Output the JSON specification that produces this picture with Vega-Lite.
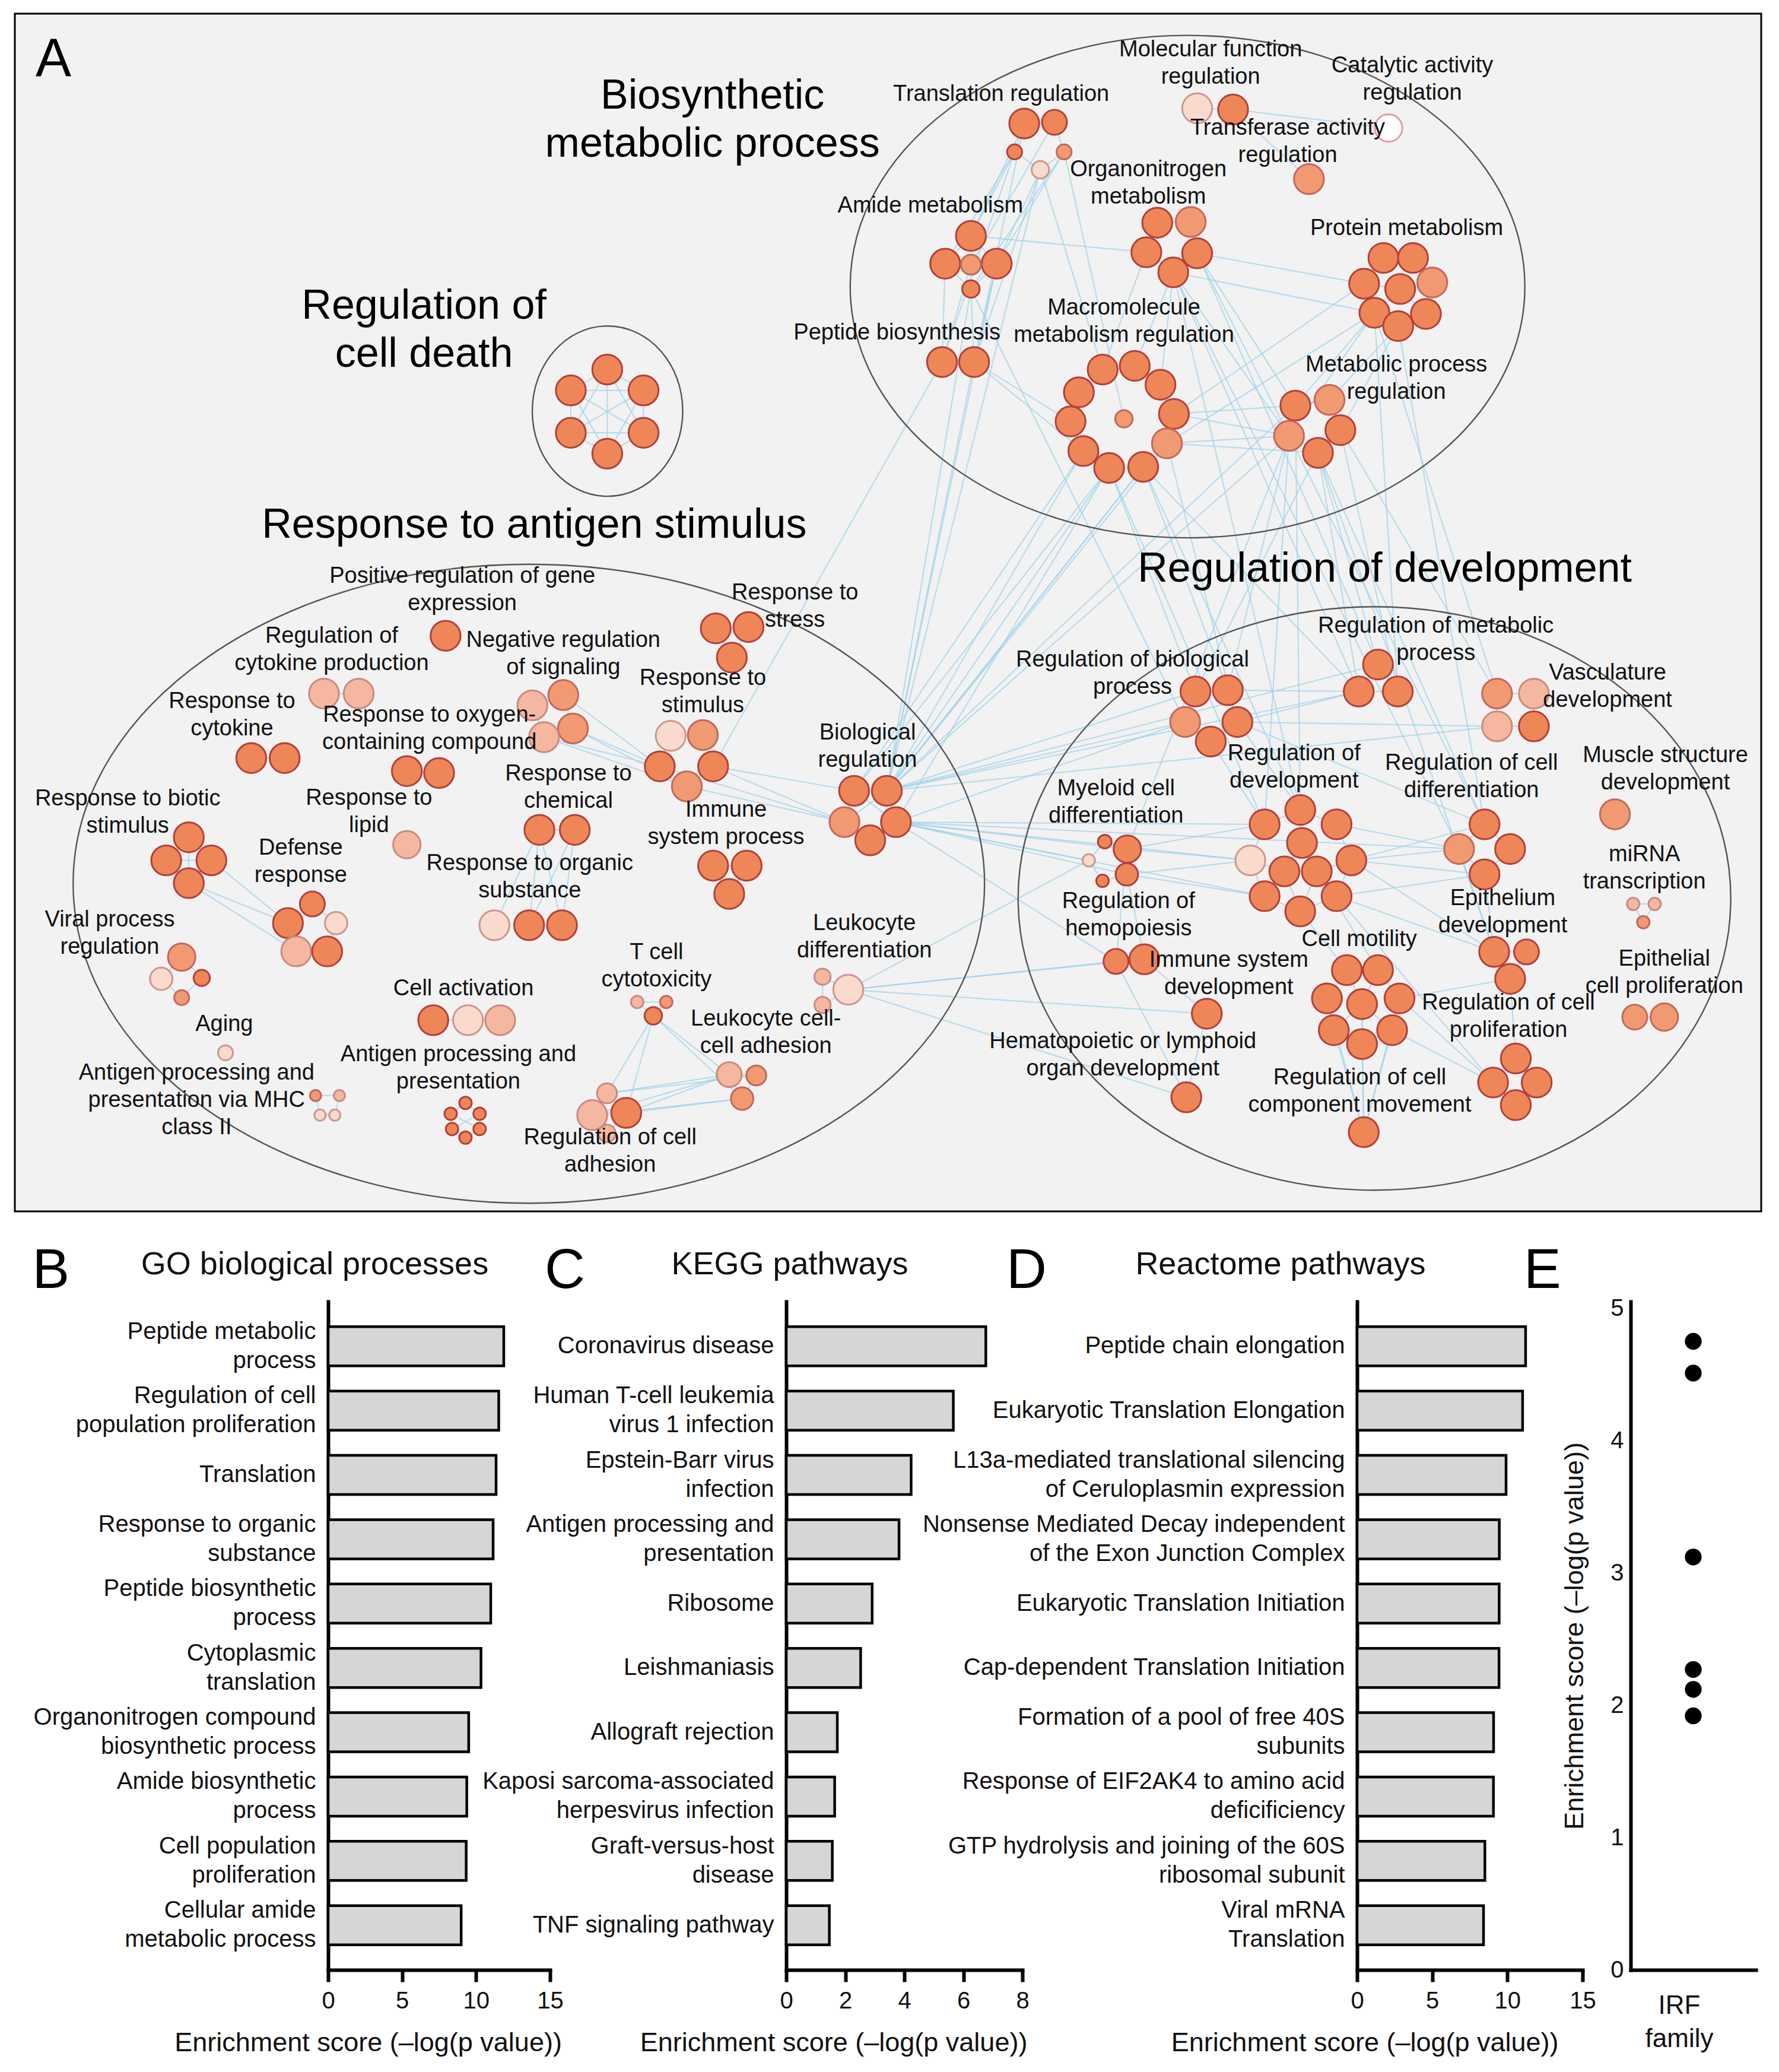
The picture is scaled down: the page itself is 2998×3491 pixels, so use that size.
{
  "$schema": "https://vega.github.io/schema/vega-lite/v6.json",
  "padding": {"left": 23, "top": 21, "right": 10, "bottom": 5},
  "autosize": {"type": "pad"},
  "background": "white",
  "config": {
    "view": {"stroke": null},
    "font": "Liberation Sans, Arial, Helvetica, sans-serif",
    "axis": {"grid": false, "labelFont": "Liberation Sans, Arial, sans-serif", "titleFont": "Liberation Sans, Arial, sans-serif", "labelColor": "#111", "titleColor": "#111"},
    "title": {"font": "Liberation Sans, Arial, sans-serif", "fontWeight": "normal", "color": "#111"}
  },
  "bounds": "flush",
  "spacing": 152,
  "datasets": {
    "nodes": [
      {"id":"TR1","x":775.7,"y":93.2,"r":12,"c":"S"},{"id":"TR2","x":798.6,"y":92.3,"r":10,"c":"S"},{"id":"TR3","x":768.4,"y":114.7,"r":6,"c":"S"},{"id":"TR4","x":805.9,"y":114.7,"r":6,"c":"M"},{"id":"TR5","x":787.9,"y":128.2,"r":7,"c":"V"},
      {"id":"MF1","x":906.7,"y":81.7,"r":12,"c":"V"},{"id":"MF2","x":933.9,"y":82.6,"r":12,"c":"S"},
      {"id":"CA1","x":1051.7,"y":96.6,"r":11,"c":"W"},{"id":"TA1","x":991.4,"y":135.3,"r":12,"c":"M"},
      {"id":"ON1","x":876.5,"y":168.3,"r":12,"c":"S"},{"id":"ON2","x":901.8,"y":167.7,"r":12,"c":"M"},{"id":"ON3","x":868.2,"y":190.7,"r":12,"c":"S"},{"id":"ON4","x":906.7,"y":191.5,"r":12,"c":"S"},{"id":"ON5","x":888.6,"y":205.9,"r":12,"c":"S"},
      {"id":"AM1","x":735.3,"y":178.3,"r":12,"c":"S"},{"id":"AM2","x":715.8,"y":199.3,"r":12,"c":"S"},{"id":"AM3","x":754.8,"y":199.3,"r":12,"c":"S"},{"id":"AM4","x":735.3,"y":200.1,"r":8,"c":"M"},{"id":"AM5","x":735.3,"y":218.5,"r":7,"c":"S"},
      {"id":"PB1","x":713.4,"y":273.8,"r":12,"c":"S"},{"id":"PB2","x":737.7,"y":273.8,"r":12,"c":"S"},
      {"id":"PM1","x":1047.8,"y":195,"r":12,"c":"S"},{"id":"PM2","x":1070.2,"y":195,"r":12,"c":"S"},{"id":"PM3","x":1033.2,"y":214.5,"r":12,"c":"S"},{"id":"PM4","x":1060.5,"y":218.5,"r":12,"c":"S"},{"id":"PM5","x":1084.8,"y":213.6,"r":12,"c":"M"},{"id":"PM6","x":1041,"y":236.5,"r":12,"c":"S"},{"id":"PM7","x":1080,"y":237.4,"r":12,"c":"S"},{"id":"PM8","x":1059,"y":246.6,"r":12,"c":"S"},
      {"id":"MM1","x":835.1,"y":279.5,"r":12,"c":"S"},{"id":"MM2","x":859.4,"y":276.7,"r":12,"c":"S"},{"id":"MM3","x":878.9,"y":291,"r":12,"c":"S"},{"id":"MM4","x":817.1,"y":296.7,"r":12,"c":"S"},{"id":"MM5","x":889.1,"y":313.1,"r":12,"c":"S"},{"id":"MM6","x":810.8,"y":318.8,"r":12,"c":"S"},{"id":"MM7","x":851.2,"y":316.8,"r":7,"c":"M"},{"id":"MM8","x":883.8,"y":335.4,"r":12,"c":"M"},{"id":"MM9","x":820.5,"y":341.2,"r":12,"c":"S"},{"id":"MM10","x":840,"y":354,"r":12,"c":"S"},{"id":"MM11","x":865.8,"y":353.2,"r":12,"c":"S"},
      {"id":"MP1","x":981.1,"y":306.8,"r":12,"c":"S"},{"id":"MP2","x":1007,"y":302.5,"r":12,"c":"M"},{"id":"MP3","x":976.3,"y":329.7,"r":12,"c":"M"},{"id":"MP4","x":1015.2,"y":325.4,"r":12,"c":"S"},{"id":"MP5","x":998.2,"y":342.6,"r":12,"c":"S"},
      {"id":"CD1","x":459.8,"y":279.5,"r":12,"c":"S"},{"id":"CD2","x":432.2,"y":295.3,"r":12,"c":"S"},{"id":"CD3","x":487.3,"y":295.3,"r":12,"c":"S"},{"id":"CD4","x":432.2,"y":327.4,"r":12,"c":"S"},{"id":"CD5","x":487.3,"y":327.4,"r":12,"c":"S"},{"id":"CD6","x":459.8,"y":343.2,"r":12,"c":"S"},
      {"id":"PG1","x":337.3,"y":481.1,"r":12,"c":"S"},
      {"id":"RS1","x":542,"y":475.5,"r":12,"c":"S"},{"id":"RS2","x":566.8,"y":474.5,"r":12,"c":"S"},{"id":"RS3","x":554.2,"y":497.6,"r":12,"c":"S"},
      {"id":"RC1","x":245.2,"y":524.9,"r":12,"c":"L"},{"id":"RC2","x":271.5,"y":524.9,"r":12,"c":"L"},
      {"id":"NS1","x":426.5,"y":526,"r":12,"c":"M"},{"id":"NS2","x":403.1,"y":533.8,"r":12,"c":"L"},{"id":"NS3","x":433.8,"y":551.3,"r":12,"c":"M"},{"id":"NS4","x":411.9,"y":557.9,"r":12,"c":"L"},
      {"id":"ST1","x":507.9,"y":556.9,"r":12,"c":"V"},{"id":"ST2","x":532.2,"y":556.3,"r":12,"c":"M"},{"id":"ST3","x":499.6,"y":580,"r":12,"c":"S"},{"id":"ST4","x":540,"y":580,"r":12,"c":"S"},{"id":"ST5","x":520.1,"y":595.2,"r":12,"c":"M"},
      {"id":"CY1","x":190.1,"y":573.7,"r":12,"c":"S"},{"id":"CY2","x":215.4,"y":573.7,"r":12,"c":"S"},
      {"id":"OX1","x":308,"y":583.6,"r":12,"c":"S"},{"id":"OX2","x":332.4,"y":585,"r":12,"c":"S"},
      {"id":"BR1","x":646.8,"y":598.5,"r":12,"c":"S"},{"id":"BR2","x":671.6,"y":598.5,"r":12,"c":"S"},{"id":"BR3","x":639.5,"y":622.2,"r":12,"c":"M"},{"id":"BR4","x":678.5,"y":622.2,"r":12,"c":"S"},{"id":"BR5","x":659,"y":636,"r":12,"c":"S"},
      {"id":"CH1","x":408.4,"y":628.1,"r":12,"c":"S"},{"id":"CH2","x":435.2,"y":628.1,"r":12,"c":"S"},
      {"id":"LI1","x":308,"y":639.3,"r":11,"c":"L"},
      {"id":"BI1","x":142.8,"y":633.7,"r":12,"c":"S"},{"id":"BI2","x":125.7,"y":651.2,"r":12,"c":"S"},{"id":"BI3","x":159.9,"y":651.2,"r":12,"c":"S"},{"id":"BI4","x":142.8,"y":668.4,"r":12,"c":"S"},
      {"id":"IM1","x":540,"y":655.2,"r":12,"c":"S"},{"id":"IM2","x":565.4,"y":655.2,"r":12,"c":"S"},{"id":"IM3","x":552.2,"y":676.6,"r":12,"c":"S"},
      {"id":"DR1","x":236.4,"y":684.2,"r":10,"c":"S"},{"id":"DR2","x":217.9,"y":698.7,"r":12,"c":"S"},{"id":"DR3","x":254.4,"y":698.7,"r":9,"c":"V"},{"id":"DR4","x":224.2,"y":720.1,"r":12,"c":"L"},{"id":"DR5","x":247.6,"y":720.1,"r":12,"c":"S"},
      {"id":"OS1","x":374.3,"y":700.3,"r":12,"c":"V"},{"id":"OS2","x":400.6,"y":700.3,"r":12,"c":"S"},{"id":"OS3","x":425.5,"y":700.3,"r":12,"c":"S"},
      {"id":"VP1","x":137.4,"y":724.4,"r":11,"c":"M"},{"id":"VP2","x":121.9,"y":740.9,"r":9,"c":"V"},{"id":"VP3","x":152.6,"y":740.2,"r":6.5,"c":"S"},{"id":"VP4","x":137.4,"y":755.1,"r":6,"c":"M"},
      {"id":"AC1","x":328,"y":772.2,"r":12,"c":"S"},{"id":"AC2","x":354.3,"y":772.2,"r":12,"c":"V"},{"id":"AC3","x":378.7,"y":772.2,"r":12,"c":"L"},
      {"id":"AG1","x":170.6,"y":796.9,"r":6,"c":"V"},
      {"id":"MH1","x":238.8,"y":829.3,"r":4.5,"c":"M"},{"id":"MH2","x":256.9,"y":829.3,"r":4.5,"c":"L"},{"id":"MH3","x":242.2,"y":844.1,"r":4.5,"c":"V"},{"id":"MH4","x":253.4,"y":844.1,"r":4.5,"c":"V"},
      {"id":"AP1","x":352.4,"y":834.9,"r":5,"c":"S"},{"id":"AP2","x":341.2,"y":843.1,"r":5,"c":"S"},{"id":"AP3","x":363.1,"y":843.1,"r":5,"c":"S"},{"id":"AP4","x":342.2,"y":854.6,"r":5,"c":"S"},{"id":"AP5","x":363.1,"y":854.6,"r":5,"c":"S"},{"id":"AP6","x":352.4,"y":861.2,"r":5,"c":"S"},
      {"id":"TC1","x":482.5,"y":758.4,"r":5,"c":"L"},{"id":"TC2","x":504.5,"y":758.4,"r":5,"c":"M"},{"id":"TC3","x":494.7,"y":768.9,"r":7,"c":"S"},
      {"id":"LD1","x":622.9,"y":739.3,"r":6.5,"c":"L"},{"id":"LD2","x":642.4,"y":749.1,"r":12,"c":"V"},{"id":"LD3","x":622.9,"y":760.7,"r":6.5,"c":"L"},
      {"id":"LA1","x":552.2,"y":813.4,"r":10,"c":"L"},{"id":"LA2","x":572.7,"y":814.1,"r":8,"c":"M"},{"id":"LA3","x":562,"y":831.6,"r":9,"c":"M"},
      {"id":"RA1","x":459.6,"y":827.6,"r":8,"c":"L"},{"id":"RA2","x":448.4,"y":844.1,"r":12,"c":"L"},{"id":"RA3","x":474.2,"y":842.4,"r":12,"c":"S"},{"id":"RA4","x":459.6,"y":858,"r":7,"c":"L"},
      {"id":"RM1","x":1043.7,"y":502.9,"r":12,"c":"S"},{"id":"RM2","x":1029.1,"y":523.3,"r":12,"c":"S"},{"id":"RM3","x":1058.7,"y":523.3,"r":12,"c":"S"},
      {"id":"RB1","x":905.4,"y":523.3,"r":12,"c":"S"},{"id":"RB2","x":929.9,"y":522.3,"r":12,"c":"S"},{"id":"RB3","x":897.6,"y":546.4,"r":12,"c":"M"},{"id":"RB4","x":937.2,"y":546.4,"r":12,"c":"S"},{"id":"RB5","x":917,"y":561.2,"r":12,"c":"S"},
      {"id":"VD1","x":1133.9,"y":524.9,"r":12,"c":"M"},{"id":"VD2","x":1161.8,"y":524.9,"r":12,"c":"L"},{"id":"VD3","x":1133.9,"y":549.7,"r":12,"c":"L"},{"id":"VD4","x":1161.8,"y":549.7,"r":12,"c":"S"},
      {"id":"MS1","x":1223.2,"y":616.3,"r":12,"c":"M"},
      {"id":"MY1","x":836.7,"y":637,"r":5.5,"c":"S"},{"id":"MY2","x":853.8,"y":642.6,"r":11,"c":"S"},{"id":"MY3","x":824.6,"y":651.2,"r":5,"c":"V"},{"id":"MY4","x":853.4,"y":661.8,"r":9,"c":"S"},{"id":"MY5","x":835,"y":666.7,"r":5,"c":"S"},
      {"id":"RD1","x":984.8,"y":613,"r":12,"c":"S"},{"id":"RD2","x":957.8,"y":623.9,"r":12,"c":"S"},{"id":"RD3","x":1012.3,"y":623.9,"r":12,"c":"S"},{"id":"RD4","x":986.1,"y":638,"r":12,"c":"S"},{"id":"RD5","x":947,"y":651.2,"r":12,"c":"V"},{"id":"RD6","x":1023.5,"y":651.2,"r":12,"c":"S"},{"id":"RD7","x":972.8,"y":659.5,"r":12,"c":"S"},{"id":"RD8","x":997.3,"y":659.5,"r":12,"c":"S"},{"id":"RD9","x":957.8,"y":678.3,"r":12,"c":"S"},{"id":"RD10","x":1012.3,"y":678.3,"r":12,"c":"S"},{"id":"RD11","x":984.8,"y":689.8,"r":12,"c":"S"},
      {"id":"RCD1","x":1124.4,"y":623.9,"r":12,"c":"S"},{"id":"RCD2","x":1105.1,"y":642.6,"r":12,"c":"M"},{"id":"RCD3","x":1143.8,"y":642.6,"r":12,"c":"S"},{"id":"RCD4","x":1124.4,"y":661.8,"r":12,"c":"S"},
      {"id":"MI1","x":1237,"y":684.2,"r":5,"c":"L"},{"id":"MI2","x":1253.3,"y":684.2,"r":5,"c":"L"},{"id":"MI3","x":1244.7,"y":698,"r":5,"c":"M"},
      {"id":"HE1","x":845.2,"y":727.7,"r":10,"c":"S"},{"id":"HE2","x":866.7,"y":726.1,"r":12,"c":"S"},
      {"id":"ED1","x":1131.7,"y":720.5,"r":12,"c":"S"},{"id":"ED2","x":1156.2,"y":720.5,"r":10,"c":"S"},{"id":"ED3","x":1143.8,"y":740.9,"r":12,"c":"S"},
      {"id":"CM1","x":1020.1,"y":734.3,"r":12,"c":"S"},{"id":"CM2","x":1043.7,"y":734.3,"r":12,"c":"S"},{"id":"CM3","x":1005,"y":755.7,"r":12,"c":"S"},{"id":"CM4","x":1031.6,"y":760,"r":12,"c":"S"},{"id":"CM5","x":1060,"y":755.7,"r":12,"c":"S"},{"id":"CM6","x":1010.2,"y":779.8,"r":12,"c":"S"},{"id":"CM7","x":1054.4,"y":779.8,"r":12,"c":"S"},{"id":"CM8","x":1031.6,"y":790.3,"r":12,"c":"S"},
      {"id":"ID1","x":914,"y":767.3,"r":12,"c":"S"},
      {"id":"EP1","x":1238.2,"y":769.9,"r":10,"c":"M"},{"id":"EP2","x":1260.6,"y":769.9,"r":11,"c":"M"},
      {"id":"RP1","x":1148.1,"y":801.2,"r":12,"c":"S"},{"id":"RP2","x":1130.9,"y":819.4,"r":12,"c":"S"},{"id":"RP3","x":1163.9,"y":819.4,"r":12,"c":"S"},{"id":"RP4","x":1148.1,"y":836.5,"r":12,"c":"S"},
      {"id":"HO1","x":898.5,"y":830.6,"r":12,"c":"S"},
      {"id":"RCM1","x":1032.9,"y":857,"r":12,"c":"S"}
    ],
    "edges": [
      {"s":"CD1","t":"CD2"},{"s":"CD1","t":"CD3"},{"s":"CD1","t":"CD4"},{"s":"CD1","t":"CD5"},{"s":"CD1","t":"CD6"},{"s":"CD2","t":"CD3"},{"s":"CD2","t":"CD4"},{"s":"CD2","t":"CD5"},{"s":"CD2","t":"CD6"},{"s":"CD3","t":"CD4"},{"s":"CD3","t":"CD5"},{"s":"CD3","t":"CD6"},{"s":"CD4","t":"CD5"},{"s":"CD4","t":"CD6"},{"s":"CD5","t":"CD6"},
      {"s":"TR1","t":"TR2"},{"s":"TR1","t":"TR3"},{"s":"TR2","t":"TR4"},{"s":"TR3","t":"TR5"},{"s":"TR4","t":"TR5"},
      {"s":"TR3","t":"AM2"},{"s":"TR3","t":"AM1"},{"s":"TR1","t":"AM1"},{"s":"TR3","t":"PB1"},{"s":"TR5","t":"PB2"},{"s":"TR5","t":"AM3"},{"s":"TR4","t":"AM3"},{"s":"TR4","t":"AM5"},{"s":"TR5","t":"MM1"},{"s":"TR4","t":"MM7"},{"s":"TR1","t":"PB2"},{"s":"TR2","t":"AM4"},{"s":"TR5","t":"BR2"},
      {"s":"MF1","t":"MF2"},{"s":"MF2","t":"CA1"},{"s":"MF2","t":"TA1"},
      {"s":"AM1","t":"ON3"},{"s":"AM1","t":"AM2"},{"s":"AM1","t":"AM3"},{"s":"AM2","t":"AM5"},{"s":"AM3","t":"AM5"},{"s":"AM2","t":"PB1"},{"s":"AM5","t":"PB2"},{"s":"AM3","t":"PB2"},{"s":"AM4","t":"PB1"},{"s":"AM3","t":"BR2"},{"s":"AM5","t":"RB3"},
      {"s":"ON1","t":"ON2"},{"s":"ON1","t":"ON3"},{"s":"ON2","t":"ON4"},{"s":"ON3","t":"ON5"},{"s":"ON4","t":"ON5"},{"s":"ON4","t":"PM3"},{"s":"ON5","t":"PM6"},{"s":"ON5","t":"MM2"},{"s":"ON3","t":"MM1"},{"s":"ON5","t":"MM3"},{"s":"ON4","t":"MP1"},{"s":"ON5","t":"MP3"},{"s":"ON5","t":"RM2"},{"s":"ON4","t":"RM1"},{"s":"ON5","t":"RD1"},{"s":"ON4","t":"RCD1"},{"s":"ON5","t":"RCD2"},
      {"s":"PM1","t":"PM2"},{"s":"PM3","t":"PM4"},{"s":"PM4","t":"PM7"},{"s":"PM6","t":"PM8"},{"s":"PM3","t":"PM6"},{"s":"PM6","t":"MP1"},{"s":"PM6","t":"MM8"},{"s":"PM3","t":"MM5"},{"s":"PM8","t":"MP2"},{"s":"PM6","t":"MP3"},{"s":"PM8","t":"MP4"},{"s":"PM6","t":"RM3"},{"s":"PM8","t":"RCD1"},{"s":"PM6","t":"VD1"},
      {"s":"MM8","t":"MP3"},{"s":"MM5","t":"MP1"},{"s":"MM5","t":"MP3"},{"s":"MM8","t":"MP5"},{"s":"PB2","t":"MM9"},{"s":"PB2","t":"MM6"},
      {"s":"MP1","t":"MP2"},{"s":"MP1","t":"MP3"},{"s":"MP3","t":"MP5"},{"s":"MP4","t":"MP5"},{"s":"MP2","t":"MP4"},
      {"s":"MP5","t":"RM1"},{"s":"MP5","t":"RM2"},{"s":"MP4","t":"RM3"},{"s":"MP3","t":"RB2"},{"s":"MP5","t":"RB1"},{"s":"MP1","t":"RD1"},{"s":"MP5","t":"RCD1"},{"s":"MP3","t":"RD2"},{"s":"MP4","t":"VD1"},{"s":"MP5","t":"ED1"},{"s":"MP3","t":"MY2"},
      {"s":"MM10","t":"RB1"},{"s":"MM11","t":"RB2"},{"s":"MM11","t":"RM2"},{"s":"MM8","t":"RB4"},{"s":"MM11","t":"RD1"},{"s":"MM10","t":"RD2"},
      {"s":"AM5","t":"BR2"},{"s":"PB2","t":"BR2"},{"s":"MM9","t":"BR2"},{"s":"MM10","t":"BR4"},{"s":"MM11","t":"BR2"},{"s":"MM10","t":"BR2"},{"s":"PB1","t":"ST4"},{"s":"MM9","t":"BR1"},{"s":"MM8","t":"BR2"},{"s":"MM10","t":"BR1"},
      {"s":"RS1","t":"RS2"},{"s":"RS1","t":"RS3"},{"s":"RS2","t":"RS3"},{"s":"RC1","t":"RC2"},{"s":"CY1","t":"CY2"},{"s":"OX1","t":"OX2"},{"s":"CH1","t":"CH2"},
      {"s":"NS1","t":"NS2"},{"s":"NS1","t":"NS3"},{"s":"NS2","t":"NS4"},{"s":"NS3","t":"NS4"},{"s":"NS3","t":"ST3"},{"s":"NS4","t":"ST3"},{"s":"NS1","t":"ST3"},{"s":"NS3","t":"ST5"},{"s":"NS4","t":"ST5"},
      {"s":"ST1","t":"ST2"},{"s":"ST1","t":"ST3"},{"s":"ST2","t":"ST4"},{"s":"ST3","t":"ST5"},{"s":"ST4","t":"ST5"},{"s":"ST4","t":"BR1"},{"s":"ST4","t":"BR3"},{"s":"ST3","t":"BR3"},{"s":"ST5","t":"BR3"},
      {"s":"BR1","t":"BR2"},{"s":"BR1","t":"BR3"},{"s":"BR2","t":"BR4"},{"s":"BR3","t":"BR5"},{"s":"BR4","t":"BR5"},{"s":"BR1","t":"BR4"},{"s":"BR2","t":"BR3"},
      {"s":"BI1","t":"BI2"},{"s":"BI1","t":"BI3"},{"s":"BI2","t":"BI4"},{"s":"BI3","t":"BI4"},{"s":"BI1","t":"BI4"},{"s":"BI2","t":"BI3"},{"s":"BI3","t":"DR2"},{"s":"BI4","t":"DR2"},{"s":"BI4","t":"DR4"},
      {"s":"DR1","t":"DR2"},{"s":"DR1","t":"DR3"},{"s":"DR2","t":"DR4"},{"s":"DR3","t":"DR5"},{"s":"DR4","t":"DR5"},
      {"s":"CH1","t":"OS2"},{"s":"CH2","t":"OS3"},{"s":"CH1","t":"OS1"},{"s":"CH2","t":"OS2"},{"s":"CH1","t":"OS3"},
      {"s":"IM1","t":"IM2"},{"s":"IM1","t":"IM3"},{"s":"IM2","t":"IM3"},
      {"s":"VP1","t":"VP2"},{"s":"VP1","t":"VP3"},{"s":"VP2","t":"VP4"},{"s":"VP3","t":"VP4"},
      {"s":"AC1","t":"AC2"},{"s":"AC2","t":"AC3"},
      {"s":"MH1","t":"MH2"},{"s":"MH1","t":"MH3"},{"s":"MH2","t":"MH4"},{"s":"MH3","t":"MH4"},
      {"s":"AP1","t":"AP2"},{"s":"AP1","t":"AP3"},{"s":"AP2","t":"AP4"},{"s":"AP3","t":"AP5"},{"s":"AP4","t":"AP6"},{"s":"AP5","t":"AP6"},{"s":"AP2","t":"AP5"},{"s":"AP3","t":"AP4"},
      {"s":"TC1","t":"TC2"},{"s":"TC1","t":"TC3"},{"s":"TC2","t":"TC3"},{"s":"TC3","t":"LA1"},{"s":"TC3","t":"RA3"},{"s":"TC3","t":"RA1"},{"s":"TC3","t":"LA3"},
      {"s":"LA1","t":"LA2"},{"s":"LA1","t":"LA3"},{"s":"LA2","t":"LA3"},{"s":"LA1","t":"RA1"},{"s":"LA1","t":"RA3"},{"s":"LA3","t":"RA3"},{"s":"LA3","t":"RA2"},{"s":"LA2","t":"RA1"},{"s":"LA1","t":"RA2"},
      {"s":"RA1","t":"RA2"},{"s":"RA1","t":"RA3"},{"s":"RA2","t":"RA4"},{"s":"RA3","t":"RA4"},
      {"s":"LD1","t":"LD2"},{"s":"LD2","t":"LD3"},{"s":"LD1","t":"LD3"},
      {"s":"LD2","t":"HE1"},{"s":"LD2","t":"ID1"},{"s":"LD2","t":"HO1"},{"s":"LD2","t":"MY3"},{"s":"LD2","t":"HE2"},
      {"s":"BR2","t":"RB3"},{"s":"BR2","t":"RB1"},{"s":"BR2","t":"RM2"},{"s":"BR2","t":"RM1"},{"s":"BR4","t":"RB3"},{"s":"BR4","t":"RD5"},{"s":"BR4","t":"RD2"},{"s":"BR4","t":"RCD2"},{"s":"BR4","t":"MY2"},{"s":"BR4","t":"MY3"},{"s":"BR4","t":"HE1"},{"s":"BR2","t":"MP3"},{"s":"BR2","t":"MM11"},{"s":"BR2","t":"VD3"},{"s":"BR4","t":"RD9"},{"s":"BR2","t":"MP1"},{"s":"BR4","t":"MY4"},
      {"s":"RM1","t":"RM2"},{"s":"RM1","t":"RM3"},{"s":"RM2","t":"RM3"},
      {"s":"RB1","t":"RB2"},{"s":"RB1","t":"RB3"},{"s":"RB2","t":"RB4"},{"s":"RB3","t":"RB5"},{"s":"RB4","t":"RB5"},
      {"s":"RB4","t":"RM2"},{"s":"RB2","t":"RM2"},{"s":"RB4","t":"VD3"},{"s":"RB4","t":"RD1"},{"s":"RB5","t":"RD2"},{"s":"RB4","t":"RCD1"},
      {"s":"VD1","t":"VD2"},{"s":"VD1","t":"VD3"},{"s":"VD2","t":"VD4"},{"s":"VD3","t":"VD4"},
      {"s":"MY1","t":"MY2"},{"s":"MY1","t":"MY3"},{"s":"MY2","t":"MY4"},{"s":"MY3","t":"MY5"},{"s":"MY4","t":"MY5"},
      {"s":"MY2","t":"RD5"},{"s":"MY4","t":"RD5"},{"s":"MY2","t":"RD2"},{"s":"MY4","t":"RD9"},{"s":"MY2","t":"HE1"},{"s":"MY4","t":"HE2"},
      {"s":"HE1","t":"HE2"},{"s":"HE2","t":"ID1"},{"s":"HE1","t":"HO1"},{"s":"ID1","t":"HO1"},
      {"s":"RD1","t":"RD2"},{"s":"RD1","t":"RD3"},{"s":"RD2","t":"RD5"},{"s":"RD3","t":"RD6"},{"s":"RD5","t":"RD9"},{"s":"RD6","t":"RD10"},{"s":"RD9","t":"RD11"},{"s":"RD10","t":"RD11"},{"s":"RD1","t":"RD4"},{"s":"RD4","t":"RD7"},{"s":"RD4","t":"RD8"},{"s":"RD7","t":"RD11"},{"s":"RD8","t":"RD11"},{"s":"RD7","t":"RD8"},{"s":"RD5","t":"RD7"},{"s":"RD6","t":"RD8"},
      {"s":"RD3","t":"RCD2"},{"s":"RD6","t":"RCD2"},{"s":"RD6","t":"RCD4"},{"s":"RD10","t":"RCD4"},{"s":"RD6","t":"ED1"},{"s":"RD10","t":"ED1"},{"s":"RD11","t":"CM1"},{"s":"RD8","t":"CM2"},{"s":"RD10","t":"RP2"},{"s":"RD6","t":"RCD1"},
      {"s":"RCD1","t":"RCD2"},{"s":"RCD1","t":"RCD3"},{"s":"RCD2","t":"RCD4"},{"s":"RCD3","t":"RCD4"},{"s":"RCD2","t":"ED1"},{"s":"RCD4","t":"ED1"},
      {"s":"MI1","t":"MI2"},{"s":"MI1","t":"MI3"},{"s":"MI2","t":"MI3"},
      {"s":"ED1","t":"ED2"},{"s":"ED1","t":"ED3"},{"s":"ED2","t":"ED3"},{"s":"ED3","t":"RP1"},
      {"s":"CM1","t":"CM2"},{"s":"CM1","t":"CM3"},{"s":"CM2","t":"CM5"},{"s":"CM3","t":"CM6"},{"s":"CM5","t":"CM7"},{"s":"CM6","t":"CM8"},{"s":"CM7","t":"CM8"},{"s":"CM1","t":"CM4"},{"s":"CM2","t":"CM4"},{"s":"CM4","t":"CM6"},{"s":"CM4","t":"CM7"},{"s":"CM4","t":"CM8"},
      {"s":"CM8","t":"RCM1"},{"s":"CM6","t":"RCM1"},{"s":"CM7","t":"RCM1"},{"s":"CM3","t":"RCM1"},{"s":"CM5","t":"RCM1"},{"s":"CM4","t":"RCM1"},
      {"s":"CM5","t":"RP2"},{"s":"CM7","t":"RP2"},{"s":"ED3","t":"CM5"},
      {"s":"EP1","t":"EP2"},{"s":"RP1","t":"RP2"},{"s":"RP1","t":"RP3"},{"s":"RP2","t":"RP4"},{"s":"RP3","t":"RP4"}
    ],
    "ellipses": [
      {"name":"Biosynthetic","cx":899.4,"cy":216.7,"hw":255.6},
      {"name":"Death","cx":460,"cy":311,"hw":57},
      {"name":"Antigen","cx":400.4,"cy":668.9,"hw":345.3},
      {"name":"Development","cx":1041,"cy":680,"hw":270}
    ],
    "labels": [
      {"t":"Translation regulation","x":758.2,"y":76},
      {"t":"Molecular function|regulation","x":916.9,"y":42.4},
      {"t":"Catalytic activity|regulation","x":1069.7,"y":54.5},
      {"t":"Transferase activity|regulation","x":975.3,"y":101.8},
      {"t":"Organonitrogen|metabolism","x":869.7,"y":133.3},
      {"t":"Amide metabolism","x":704.6,"y":160.5},
      {"t":"Protein metabolism","x":1065.4,"y":177.8},
      {"t":"Macromolecule|metabolism regulation","x":851.2,"y":238},
      {"t":"Peptide biosynthesis","x":679.3,"y":256.6},
      {"t":"Metabolic process|regulation","x":1057.6,"y":281},
      {"t":"Positive regulation of gene|expression","x":350,"y":440.9},
      {"t":"Response to|stress","x":602,"y":453.4},
      {"t":"Regulation of|cytokine production","x":251,"y":486.4},
      {"t":"Negative regulation|of signaling","x":426.5,"y":489.7},
      {"t":"Response to|cytokine","x":175.5,"y":535.8},
      {"t":"Response to|stimulus","x":532.2,"y":518.3},
      {"t":"Response to oxygen-|containing compound","x":325.1,"y":546.4},
      {"t":"Biological|regulation","x":657,"y":559.6},
      {"t":"Response to|chemical","x":430.4,"y":590.9},
      {"t":"Response to biotic|stimulus","x":96.5,"y":609.7},
      {"t":"Response to|lipid","x":279.3,"y":609},
      {"t":"Immune|system process","x":549.8,"y":618.2},
      {"t":"Defense|response","x":227.6,"y":646.9},
      {"t":"Response to organic|substance","x":401.1,"y":658.5},
      {"t":"Viral process|regulation","x":82.9,"y":701.3},
      {"t":"Leukocyte|differentiation","x":654.6,"y":704},
      {"t":"T cell|cytotoxicity","x":497.1,"y":726.1},
      {"t":"Cell activation","x":350.9,"y":753.4},
      {"t":"Aging","x":169.6,"y":780.5},
      {"t":"Leukocyte cell-|cell adhesion","x":580,"y":776.5},
      {"t":"Antigen processing and|presentation","x":347,"y":803.5},
      {"t":"Antigen processing and|presentation via MHC|class II","x":148.7,"y":817.4},
      {"t":"Regulation of cell|adhesion","x":462,"y":866.2},
      {"t":"Regulation of metabolic|process","x":1087.5,"y":478.8},
      {"t":"Regulation of biological|process","x":857.7,"y":504.2},
      {"t":"Vasculature|development","x":1217.6,"y":514.4},
      {"t":"Regulation of|development","x":980.1,"y":575.4},
      {"t":"Regulation of cell|differentiation","x":1114.5,"y":582.6},
      {"t":"Muscle structure|development","x":1261.4,"y":576.7},
      {"t":"Myeloid cell|differentiation","x":845.2,"y":601.8},
      {"t":"miRNA|transcription","x":1245.5,"y":651.9},
      {"t":"Regulation of|hemopoiesis","x":854.7,"y":687.2},
      {"t":"Epithelium|development","x":1138.2,"y":684.9},
      {"t":"Cell motility","x":1029.5,"y":716.2},
      {"t":"Immune system|development","x":930.7,"y":732},
      {"t":"Epithelial|cell proliferation","x":1260.6,"y":731},
      {"t":"Regulation of cell|proliferation","x":1142.5,"y":764},
      {"t":"Hematopoietic or lymphoid|organ development","x":850.4,"y":793.6},
      {"t":"Regulation of cell|component movement","x":1029.9,"y":820.7}
    ],
    "titles": [
      {"t":"Biosynthetic|metabolic process","x":539.5,"y":81.7},
      {"t":"Regulation of|cell death","x":321,"y":240.8},
      {"t":"Response to antigen stimulus","x":404.5,"y":407},
      {"t":"Regulation of development","x":1048.8,"y":440.2}
    ],
    "go": [
      {"term":"Peptide metabolic|process","score":11.87},
      {"term":"Regulation of cell|population proliferation","score":11.53},
      {"term":"Translation","score":11.35},
      {"term":"Response to organic|substance","score":11.15},
      {"term":"Peptide biosynthetic|process","score":10.99},
      {"term":"Cytoplasmic|translation","score":10.33},
      {"term":"Organonitrogen compound|biosynthetic process","score":9.5},
      {"term":"Amide biosynthetic|process","score":9.37},
      {"term":"Cell population|proliferation","score":9.33},
      {"term":"Cellular amide|metabolic process","score":8.99}
    ],
    "kegg": [
      {"term":"Coronavirus disease","score":6.76},
      {"term":"Human T-cell leukemia|virus 1 infection","score":5.66},
      {"term":"Epstein-Barr virus|infection","score":4.23},
      {"term":"Antigen processing and|presentation","score":3.82},
      {"term":"Ribosome","score":2.91},
      {"term":"Leishmaniasis","score":2.52},
      {"term":"Allograft rejection","score":1.73},
      {"term":"Kaposi sarcoma-associated|herpesvirus infection","score":1.64},
      {"term":"Graft-versus-host|disease","score":1.56},
      {"term":"TNF signaling pathway","score":1.46}
    ],
    "reactome": [
      {"term":"Peptide chain elongation","score":11.21},
      {"term":"Eukaryotic Translation Elongation","score":11.01},
      {"term":"L13a-mediated translational silencing|of Ceruloplasmin expression","score":9.91},
      {"term":"Nonsense Mediated Decay independent|of the Exon Junction Complex","score":9.46},
      {"term":"Eukaryotic Translation Initiation","score":9.45},
      {"term":"Cap-dependent Translation Initiation","score":9.44},
      {"term":"Formation of a pool of free 40S|subunits","score":9.08},
      {"term":"Response of EIF2AK4 to amino acid|deficificiency","score":9.07},
      {"term":"GTP hydrolysis and joining of the 60S|ribosomal subunit","score":8.5},
      {"term":"Viral mRNA|Translation","score":8.41}
    ],
    "irf": [
      {"group":"IRF family","score":4.75},
      {"group":"IRF family","score":4.51},
      {"group":"IRF family","score":3.12},
      {"group":"IRF family","score":2.27},
      {"group":"IRF family","score":2.12},
      {"group":"IRF family","score":1.92}
    ]
  },
  "vconcat": [
    {
      "width": 2943,
      "height": 2018,
      "view": {"fill": "#f2f2f2", "stroke": "#000", "strokeWidth": 3},
      "resolve": {"scale": {"size": "independent", "shape": "independent", "fill": "independent", "stroke": "independent"}},
      "layer": [
        {
          "data": {"name": "edges"},
          "transform": [
            {"lookup": "s", "from": {"data": {"name": "nodes"}, "key": "id", "fields": ["x", "y"]}, "as": ["sx", "sy"]},
            {"lookup": "t", "from": {"data": {"name": "nodes"}, "key": "id", "fields": ["x", "y"]}, "as": ["tx", "ty"]}
          ],
          "mark": {"type": "rule", "stroke": "#9fd2ea", "strokeWidth": 2, "opacity": 0.75},
          "encoding": {
            "x": {"field": "sx", "type": "quantitative", "scale": {"domain": [11, 1334], "nice": false, "zero": false}, "axis": null},
            "y": {"field": "sy", "type": "quantitative", "scale": {"domain": [10, 917], "nice": false, "zero": false, "reverse": true}, "axis": null},
            "x2": {"field": "tx"},
            "y2": {"field": "ty"}
          }
        },
        {
          "data": {"name": "ellipses"},
          "mark": {"type": "point", "filled": false, "color": "#555555", "strokeWidth": 2.4, "opacity": 1},
          "encoding": {
            "x": {"field": "cx", "type": "quantitative", "scale": {"domain": [11, 1334], "nice": false, "zero": false}, "axis": null},
            "y": {"field": "cy", "type": "quantitative", "scale": {"domain": [10, 917], "nice": false, "zero": false, "reverse": true}, "axis": null},
            "size": {"field": "hw", "type": "quantitative", "scale": {"type": "pow", "exponent": 2, "domain": [0, 345.3], "range": [0, 2359000]}, "legend": null},
            "shape": {"field": "name", "type": "nominal", "legend": null, "scale": {
              "domain": ["Biosynthetic", "Death", "Antigen", "Development"],
              "range": [
                "M1,0C1,0.4112,0.5523,0.7445,0,0.7445C-0.5523,0.7445,-1,0.4112,-1,0C-1,-0.4112,-0.5523,-0.7445,0,-0.7445C0.5523,-0.7445,1,-0.4112,1,0Z",
                "M1,0C1,0.625,0.5523,1.1316,0,1.1316C-0.5523,1.1316,-1,0.625,-1,0C-1,-0.625,-0.5523,-1.1316,0,-1.1316C0.5523,-1.1316,1,-0.625,1,0Z",
                "M1,0C1,0.3871,0.5523,0.7008,0,0.7008C-0.5523,0.7008,-1,0.3871,-1,0C-1,-0.3871,-0.5523,-0.7008,0,-0.7008C0.5523,-0.7008,1,-0.3871,1,0Z",
                "M1,0C1,0.4521,0.5523,0.8185,0,0.8185C-0.5523,0.8185,-1,0.4521,-1,0C-1,-0.4521,-0.5523,-0.8185,0,-0.8185C0.5523,-0.8185,1,-0.4521,1,0Z"
              ]}}
          }
        },
        {
          "data": {"name": "nodes"},
          "mark": {"type": "point", "shape": "circle", "filled": true, "opacity": 1, "strokeWidth": 3},
          "encoding": {
            "x": {"field": "x", "type": "quantitative", "scale": {"domain": [11, 1334], "nice": false, "zero": false}, "axis": null},
            "y": {"field": "y", "type": "quantitative", "scale": {"domain": [10, 917], "nice": false, "zero": false, "reverse": true}, "axis": null},
            "size": {"field": "r", "type": "quantitative", "scale": {"type": "pow", "exponent": 2, "domain": [0, 12], "range": [0, 2540]}, "legend": null},
            "fill": {"field": "c", "type": "nominal", "legend": null, "scale": {"domain": ["S", "M", "L", "V", "W"], "range": ["#ee8658", "#f19a72", "#f5b79f", "#f9dacd", "#ffffff"]}},
            "stroke": {"field": "c", "type": "nominal", "legend": null, "scale": {"domain": ["S", "M", "L", "V", "W"], "range": ["#b3403a", "#c4675a", "#c98a80", "#cc978d", "#e89aa3"]}}
          }
        },
        {
          "data": {"name": "labels"},
          "mark": {"type": "text", "font": "Liberation Sans, Arial, sans-serif", "fontSize": 38, "lineBreak": "|", "lineHeight": 46, "align": "center", "baseline": "alphabetic", "color": "#111111"},
          "encoding": {
            "x": {"field": "x", "type": "quantitative", "scale": {"domain": [11, 1334], "nice": false, "zero": false}, "axis": null},
            "y": {"field": "y", "type": "quantitative", "scale": {"domain": [10, 917], "nice": false, "zero": false, "reverse": true}, "axis": null},
            "text": {"field": "t"}
          }
        },
        {
          "data": {"name": "titles"},
          "mark": {"type": "text", "font": "Liberation Sans, Arial, sans-serif", "fontSize": 70, "lineBreak": "|", "lineHeight": 81, "align": "center", "baseline": "alphabetic", "color": "#000000"},
          "encoding": {
            "x": {"field": "x", "type": "quantitative", "scale": {"domain": [11, 1334], "nice": false, "zero": false}, "axis": null},
            "y": {"field": "y", "type": "quantitative", "scale": {"domain": [10, 917], "nice": false, "zero": false, "reverse": true}, "axis": null},
            "text": {"field": "t"}
          }
        },
        {
          "data": {"values": [{"t": "A", "x": 26.7, "y": 57.3}]},
          "mark": {"type": "text", "font": "Liberation Sans, Arial, sans-serif", "fontSize": 90, "align": "left", "baseline": "alphabetic", "color": "#000000"},
          "encoding": {
            "x": {"field": "x", "type": "quantitative", "scale": {"domain": [11, 1334], "nice": false, "zero": false}, "axis": null},
            "y": {"field": "y", "type": "quantitative", "scale": {"domain": [10, 917], "nice": false, "zero": false, "reverse": true}, "axis": null},
            "text": {"field": "t"}
          }
        }
      ]
    },
    {
      "bounds": "flush",
      "spacing": 0,
      "hconcat": [
        {
          "width": 527.5, "height": 1126,
          "data": {"values": []},
          "title": {"text": "B", "anchor": "start", "frame": "group", "dx": 29.5, "dy": 98, "offset": 27, "baseline": "alphabetic", "fontSize": 94, "fontWeight": "normal", "color": "#000"},
          "mark": "point"
        },
        {
          "width": 374, "height": 1126,
          "data": {"name": "go"},
          "title": {"text": "GO biological processes", "anchor": "start", "frame": "group", "align": "center", "dx": -22.5, "dy": 51, "offset": 43, "baseline": "alphabetic", "fontSize": 54, "fontWeight": "normal", "color": "#111"},
          "mark": {"type": "bar", "fill": "#d6d6d6", "stroke": "#000", "strokeWidth": 4.5},
          "encoding": {
            "y": {"field": "term", "type": "nominal", "sort": null, "scale": {"paddingInner": 0.39, "paddingOuter": 0.39},
              "axis": {"title": null, "labelExpr": "split(datum.label, '|')", "labelOffset": {"condition": {"test": "indexof(datum.value, '|') >= 0", "value": -24.5}, "value": 0}, "labelFontSize": 40, "labelLineHeight": 49, "labelLimit": 1200, "labelPadding": 21, "ticks": false, "domainWidth": 6, "domainColor": "#000", "domainCap": "square"}},
            "x": {"field": "score", "type": "quantitative", "scale": {"domain": [0, 15], "nice": false},
              "axis": {"title": "Enrichment score (–log(p value))", "titleX": 67, "titleY": 136, "titleAlign": "center", "titleBaseline": "alphabetic", "titleFontSize": 45, "titleFontWeight": "normal", "values": [0, 5, 10, 15], "tickSize": 20, "tickWidth": 6, "tickColor": "#000", "domainWidth": 6, "domainColor": "#000", "domainCap": "square", "labelFontSize": 40, "labelPadding": 12, "labelFlush": false, "labelOverlap": false}}
          }
        },
        {
          "width": 398, "height": 1126,
          "data": {"values": []},
          "title": {"text": "C", "anchor": "start", "frame": "group", "dx": -9, "dy": 98, "offset": 27, "baseline": "alphabetic", "fontSize": 94, "fontWeight": "normal", "color": "#000"},
          "mark": "point"
        },
        {
          "width": 398, "height": 1126,
          "data": {"name": "kegg"},
          "title": {"text": "KEGG pathways", "anchor": "start", "frame": "group", "align": "center", "dx": 6, "dy": 51, "offset": 43, "baseline": "alphabetic", "fontSize": 54, "fontWeight": "normal", "color": "#111"},
          "mark": {"type": "bar", "fill": "#d6d6d6", "stroke": "#000", "strokeWidth": 4.5},
          "encoding": {
            "y": {"field": "term", "type": "nominal", "sort": null, "scale": {"paddingInner": 0.39, "paddingOuter": 0.39},
              "axis": {"title": null, "labelExpr": "split(datum.label, '|')", "labelOffset": {"condition": {"test": "indexof(datum.value, '|') >= 0", "value": -24.5}, "value": 0}, "labelFontSize": 40, "labelLineHeight": 49, "labelLimit": 1200, "labelPadding": 21, "ticks": false, "domainWidth": 6, "domainColor": "#000", "domainCap": "square"}},
            "x": {"field": "score", "type": "quantitative", "scale": {"domain": [0, 8], "nice": false},
              "axis": {"title": "Enrichment score (–log(p value))", "titleX": 79.5, "titleY": 136, "titleAlign": "center", "titleBaseline": "alphabetic", "titleFontSize": 45, "titleFontWeight": "normal", "values": [0, 2, 4, 6, 8], "tickSize": 20, "tickWidth": 6, "tickColor": "#000", "domainWidth": 6, "domainColor": "#000", "domainCap": "square", "labelFontSize": 40, "labelPadding": 12, "labelFlush": false, "labelOverlap": false}}
          }
        },
        {
          "width": 564, "height": 1126,
          "data": {"values": []},
          "title": {"text": "D", "anchor": "start", "frame": "group", "dx": -27, "dy": 98, "offset": 27, "baseline": "alphabetic", "fontSize": 94, "fontWeight": "normal", "color": "#000"},
          "mark": "point"
        },
        {
          "width": 380, "height": 1126,
          "data": {"name": "reactome"},
          "title": {"text": "Reactome pathways", "anchor": "start", "frame": "group", "align": "center", "dx": -129, "dy": 51, "offset": 43, "baseline": "alphabetic", "fontSize": 54, "fontWeight": "normal", "color": "#111"},
          "mark": {"type": "bar", "fill": "#d6d6d6", "stroke": "#000", "strokeWidth": 4.5},
          "encoding": {
            "y": {"field": "term", "type": "nominal", "sort": null, "scale": {"paddingInner": 0.39, "paddingOuter": 0.39},
              "axis": {"title": null, "labelExpr": "split(datum.label, '|')", "labelOffset": {"condition": {"test": "indexof(datum.value, '|') >= 0", "value": -24.5}, "value": 0}, "labelFontSize": 40, "labelLineHeight": 49, "labelLimit": 1200, "labelPadding": 21, "ticks": false, "domainWidth": 6, "domainColor": "#000", "domainCap": "square"}},
            "x": {"field": "score", "type": "quantitative", "scale": {"domain": [0, 15], "nice": false},
              "axis": {"title": "Enrichment score (–log(p value))", "titleX": 12.7, "titleY": 136, "titleAlign": "center", "titleBaseline": "alphabetic", "titleFontSize": 45, "titleFontWeight": "normal", "values": [0, 5, 10, 15], "tickSize": 20, "tickWidth": 6, "tickColor": "#000", "domainWidth": 6, "domainColor": "#000", "domainCap": "square", "labelFontSize": 40, "labelPadding": 12, "labelFlush": false, "labelOverlap": false}}
          }
        },
        {
          "width": 81, "height": 1126,
          "data": {"values": []},
          "title": {"text": "E", "anchor": "start", "frame": "group", "dx": -99, "dy": 98, "offset": 27, "baseline": "alphabetic", "fontSize": 94, "fontWeight": "normal", "color": "#000"},
          "mark": "point"
        },
        {
          "width": 211, "height": 1126,
          "data": {"name": "irf"},
          "mark": {"type": "circle", "size": 800, "color": "#000", "opacity": 1},
          "encoding": {
            "x": {"field": "group", "type": "nominal", "scale": {"type": "point", "padding": 0.5},
              "axis": {"title": null, "labelExpr": "split(datum.label, ' ')", "labelAngle": 0, "labelFontSize": 44, "labelLineHeight": 56, "labelPadding": 38, "labelOffset": -24, "ticks": false, "domainWidth": 6, "domainColor": "#000", "domainCap": "square", "labelBaseline": "top"}},
            "y": {"field": "score", "type": "quantitative", "scale": {"domain": [0, 5.05], "nice": false},
              "axis": {"title": "Enrichment score (–log(p value))", "titleX": -81, "titleY": 563, "titleAngle": -90, "titleAlign": "center", "titleBaseline": "alphabetic", "titleFontSize": 45, "titleFontWeight": "normal", "values": [0, 1, 2, 3, 4, 5], "ticks": false, "domainWidth": 6, "domainColor": "#000", "domainCap": "square", "labelFontSize": 40, "labelPadding": 12, "labelFlush": false, "labelOverlap": false}}
          }
        }
      ]
    }
  ]
}
